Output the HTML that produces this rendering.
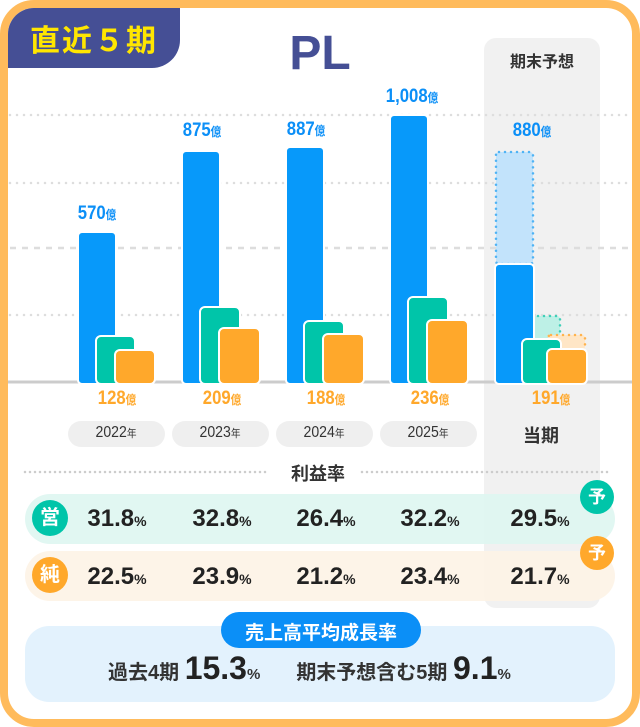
<!DOCTYPE html>
<html><head><meta charset="utf-8"><style>
body{margin:0;width:640px;height:727px;background:#fff;overflow:hidden;font-family:"Liberation Sans","Noto Sans CJK JP",sans-serif}
.a{position:absolute}
.t{position:absolute;white-space:nowrap;font-weight:bold;transform:translateX(-50%)}
.c{transform:translateX(-50%) scaleX(.88)}
</style></head><body>
<div class="a" style="left:0;top:0;width:624px;height:711px;border:8px solid #ffbb5c;border-radius:34px;background:#fff;overflow:hidden">
<div class="a" style="left:0;top:0;width:172px;height:60px;background:#454f95;border-bottom-right-radius:28px"></div>
<div class="a" style="left:22px;top:8px;color:#ffe600;font-size:30px;font-weight:bold;letter-spacing:2px">直近５期</div>
</div>
<div class="t" style="left:320px;top:26px;font-size:48px;color:#454f95;font-family:'Liberation Sans',sans-serif">PL</div>
<div class="a" style="left:484px;top:38px;width:116px;height:570px;background:#f1f1f1;border-radius:12px"></div>
<div class="t" style="left:542px;top:48px;font-size:16px;color:#333">期末予想</div>
<svg class="a" style="left:0;top:0" width="640" height="727">
<g stroke="#ddd" stroke-width="2.5" stroke-linecap="round">
<line x1="10" y1="115" x2="630" y2="115" stroke-dasharray="0 7"/>
<line x1="10" y1="183" x2="630" y2="183" stroke-dasharray="0 7"/>
<line x1="10" y1="248" x2="630" y2="248" stroke-dasharray="6 6" stroke-linecap="butt"/>
<line x1="10" y1="315" x2="630" y2="315" stroke-dasharray="0 7"/>
</g>
<line x1="8" y1="382" x2="632" y2="382" stroke="#ccc" stroke-width="3"/>
<g stroke="#fff" stroke-width="2">
<rect x="78" y="232" width="38" height="152" rx="4" fill="#0799fa"/>
<rect x="96" y="336" width="39" height="48" rx="5" fill="#00c5a9"/>
<rect x="115" y="350" width="40" height="34" rx="5" fill="#ffa82b"/>
<rect x="182" y="151" width="38" height="233" rx="4" fill="#0799fa"/>
<rect x="200" y="307" width="40" height="77" rx="5" fill="#00c5a9"/>
<rect x="219" y="328" width="41" height="56" rx="5" fill="#ffa82b"/>
<rect x="286" y="147" width="38" height="237" rx="4" fill="#0799fa"/>
<rect x="304" y="321" width="40" height="63" rx="5" fill="#00c5a9"/>
<rect x="323" y="334" width="41" height="50" rx="5" fill="#ffa82b"/>
<rect x="390" y="115" width="38" height="269" rx="4" fill="#0799fa"/>
<rect x="408" y="297" width="40" height="87" rx="5" fill="#00c5a9"/>
<rect x="427" y="320" width="41" height="64" rx="5" fill="#ffa82b"/>
</g>
<rect x="496" y="152" width="37" height="112" rx="3" fill="#c2e3fb" stroke="#4fb3f4" stroke-width="2.5" stroke-dasharray="0 6" stroke-linecap="round"/>
<rect x="523" y="316" width="37" height="24" rx="3" fill="#bdf0e6" stroke="#3fcfb8" stroke-width="2.5" stroke-dasharray="0 6" stroke-linecap="round"/>
<rect x="548" y="335" width="37" height="15" rx="3" fill="#ffe6c6" stroke="#ffb24c" stroke-width="2.5" stroke-dasharray="0 6" stroke-linecap="round"/>
<g stroke="#fff" stroke-width="2">
<rect x="495" y="264" width="39" height="120" rx="4" fill="#0799fa"/>
<rect x="522" y="339" width="39" height="45" rx="5" fill="#00c5a9"/>
<rect x="547" y="349" width="40" height="35" rx="5" fill="#ffa82b"/>
</g>
<line x1="25" y1="472" x2="270" y2="472" stroke="#ccc" stroke-width="2.5" stroke-dasharray="0 5" stroke-linecap="round"/>
<line x1="362" y1="472" x2="612" y2="472" stroke="#ccc" stroke-width="2.5" stroke-dasharray="0 5" stroke-linecap="round"/>
</svg>
<div class="t c" style="left:97px;top:203px;font-size:19px;color:#0b8ff7">570<span style="font-size:12px">億</span></div>
<div class="t c" style="left:202px;top:120px;font-size:19px;color:#0b8ff7">875<span style="font-size:12px">億</span></div>
<div class="t c" style="left:306px;top:119px;font-size:19px;color:#0b8ff7">887<span style="font-size:12px">億</span></div>
<div class="t c" style="left:412px;top:86px;font-size:19px;color:#0b8ff7">1,008<span style="font-size:12px">億</span></div>
<div class="t c" style="left:532px;top:120px;font-size:19px;color:#0b8ff7">880<span style="font-size:12px">億</span></div>
<div class="t c" style="left:117px;top:388px;font-size:19px;color:#ffa82b">128<span style="font-size:12px">億</span></div>
<div class="t c" style="left:222px;top:388px;font-size:19px;color:#ffa82b">209<span style="font-size:12px">億</span></div>
<div class="t c" style="left:326px;top:388px;font-size:19px;color:#ffa82b">188<span style="font-size:12px">億</span></div>
<div class="t c" style="left:430px;top:388px;font-size:19px;color:#ffa82b">236<span style="font-size:12px">億</span></div>
<div class="t c" style="left:551px;top:388px;font-size:19px;color:#ffa82b">191<span style="font-size:12px">億</span></div>
<div class="a" style="left:68px;top:421px;width:97px;height:26px;border-radius:13px;background:#efefef"></div>
<div class="a" style="left:172px;top:421px;width:97px;height:26px;border-radius:13px;background:#efefef"></div>
<div class="a" style="left:276px;top:421px;width:97px;height:26px;border-radius:13px;background:#efefef"></div>
<div class="a" style="left:380px;top:421px;width:97px;height:26px;border-radius:13px;background:#efefef"></div>
<div class="t c" style="left:116px;top:424px;font-size:16px;color:#333;font-weight:normal">2022<span style="font-size:11px">年</span></div>
<div class="t c" style="left:220px;top:424px;font-size:16px;color:#333;font-weight:normal">2023<span style="font-size:11px">年</span></div>
<div class="t c" style="left:324px;top:424px;font-size:16px;color:#333;font-weight:normal">2024<span style="font-size:11px">年</span></div>
<div class="t c" style="left:428px;top:424px;font-size:16px;color:#333;font-weight:normal">2025<span style="font-size:11px">年</span></div>
<div class="t" style="left:541px;top:422px;font-size:18px;color:#333">当期</div>
<div class="t" style="left:318px;top:460px;font-size:18px;color:#333">利益率</div>
<div class="a" style="left:25px;top:494px;width:590px;height:50px;border-radius:25px;background:rgba(222,246,241,.92)"></div>
<div class="a" style="left:25px;top:551px;width:590px;height:50px;border-radius:25px;background:rgba(253,243,230,.92)"></div>
<div class="a" style="left:32px;top:500px;width:36px;height:36px;border-radius:50%;background:#00c5a9;color:#fff;font-size:20px;font-weight:bold;text-align:center;line-height:36px">営</div>
<div class="a" style="left:32px;top:557px;width:36px;height:36px;border-radius:50%;background:#ffa82b;color:#fff;font-size:20px;font-weight:bold;text-align:center;line-height:36px">純</div>
<div class="a" style="left:580px;top:480px;width:34px;height:34px;border-radius:50%;background:#00c5a9;color:#fff;font-size:18px;font-weight:bold;text-align:center;line-height:34px">予</div>
<div class="a" style="left:580px;top:536px;width:34px;height:34px;border-radius:50%;background:#ffa82b;color:#fff;font-size:18px;font-weight:bold;text-align:center;line-height:34px">予</div>
<div class="t" style="left:117px;top:505px;font-size:24px;color:#222">31.8<span style="font-size:14px">%</span></div>
<div class="t" style="left:222px;top:505px;font-size:24px;color:#222">32.8<span style="font-size:14px">%</span></div>
<div class="t" style="left:326px;top:505px;font-size:24px;color:#222">26.4<span style="font-size:14px">%</span></div>
<div class="t" style="left:430px;top:505px;font-size:24px;color:#222">32.2<span style="font-size:14px">%</span></div>
<div class="t" style="left:540px;top:505px;font-size:24px;color:#222">29.5<span style="font-size:14px">%</span></div>
<div class="t" style="left:117px;top:563px;font-size:24px;color:#222">22.5<span style="font-size:14px">%</span></div>
<div class="t" style="left:222px;top:563px;font-size:24px;color:#222">23.9<span style="font-size:14px">%</span></div>
<div class="t" style="left:326px;top:563px;font-size:24px;color:#222">21.2<span style="font-size:14px">%</span></div>
<div class="t" style="left:430px;top:563px;font-size:24px;color:#222">23.4<span style="font-size:14px">%</span></div>
<div class="t" style="left:540px;top:563px;font-size:24px;color:#222">21.7<span style="font-size:14px">%</span></div>
<div class="a" style="left:25px;top:626px;width:590px;height:76px;border-radius:24px;background:#e3f2fd"></div>
<div class="a" style="left:221px;top:612px;width:200px;height:36px;border-radius:18px;background:#0b8ff7"></div>
<div class="t" style="left:321px;top:618px;font-size:19px;color:#fff">売上高平均成長率</div>
<div class="a" style="left:108px;top:650px;white-space:nowrap;font-weight:bold;color:#333;font-size:20px">過去4期 <span style="font-size:32px;color:#222">15.3</span><span style="font-size:15px">%</span><span style="display:inline-block;width:36px"></span>期末予想含む5期 <span style="font-size:32px;color:#222">9.1</span><span style="font-size:15px">%</span></div>
</body></html>
